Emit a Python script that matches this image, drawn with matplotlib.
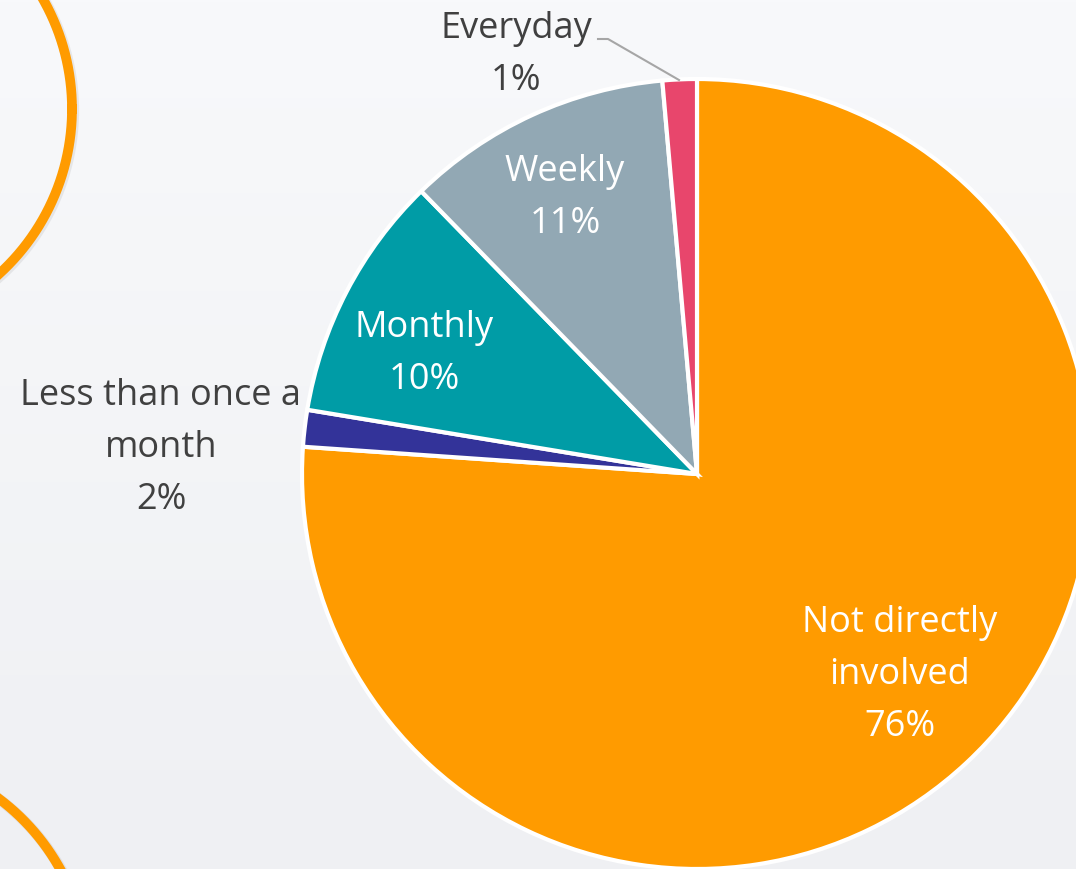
import numpy as np
import matplotlib.pyplot as plt

# slice data, clockwise from 12 o'clock
labels = ['Not directly\ninvolved', 'Less than once a\nmonth', 'Monthly', 'Weekly', 'Everyday']
values = [76.1, 1.5, 10.1, 10.9, 1.4]
colors = ['#FF9B00', '#333399', '#009CA6', '#92A8B4', '#E8466C']
label_colors = ['white', '#404040', 'white', 'white', '#404040']
label_pos = [(900, 195), (161, 422), (424, 516), (565, 672), (516, 815)]

W, H = 1076, 870
fig = plt.figure(figsize=(W / 100, H / 100), dpi=100)
ax = fig.add_axes([0, 0, 1, 1])

# soft grey background gradient
grad = np.linspace(0, 1, 256).reshape(-1, 1)
top = np.array([248, 249, 251]) / 255
bot = np.array([239, 240, 243]) / 255
img = top + (bot - top) * grad[..., None]
ax.imshow(img, extent=(0, W, 0, H), origin='upper', aspect='auto', zorder=0)

# decorative orange rings on the left
t = np.linspace(0, 2 * np.pi, 400)
for cx, cy, r in [(-151, H - 110, 223), (-135, H - 978, 223)]:
    ax.plot(cx + r * np.cos(t) + 1.5, cy + r * np.sin(t) - 1.5, color='#9a9a9a',
            lw=8, alpha=0.18, zorder=1)
    ax.plot(cx + r * np.cos(t), cy + r * np.sin(t), color='#FF9B00', lw=7, zorder=2)

wedges, _ = ax.pie(values, colors=colors, startangle=90, counterclock=False,
                   center=(697, H - 475), radius=395,
                   wedgeprops=dict(edgecolor='white', linewidth=3, zorder=3))

for lab, v, c, (x, y) in zip(labels, values, label_colors, label_pos):
    ax.text(x, y, f"{lab}\n{round(v):.0f}%", ha='center', va='center',
            color=c, fontsize=26, family='Open Sans', linespacing=1.6, zorder=5)

# leader line for the tiny "Everyday" slice
ax.plot([598, 608, 679], [H - 40, H - 40, H - 81], color='#A6A6A6', lw=1.5, zorder=4)

ax.set_xlim(0, W)
ax.set_ylim(0, H)
ax.set_aspect('auto')
ax.axis('off')

fig.savefig('out.png', dpi=100)
